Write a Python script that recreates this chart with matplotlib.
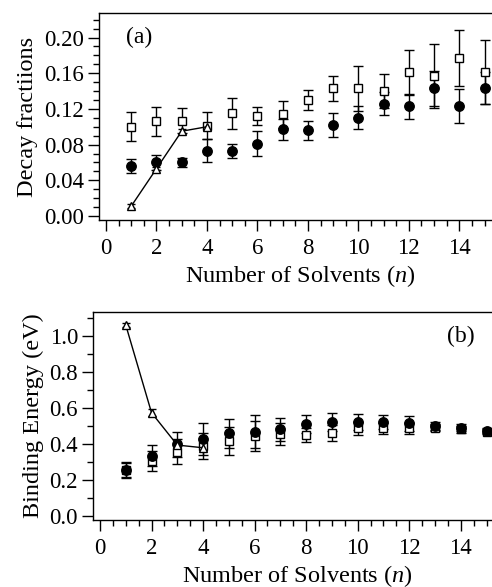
import numpy as np
import matplotlib
matplotlib.use("Agg")
import matplotlib.pyplot as plt
from matplotlib.ticker import MultipleLocator, FormatStrFormatter

plt.rcParams['font.family'] = ['Liberation Serif', 'DejaVu Serif']
plt.rcParams['mathtext.fontset'] = 'custom'
plt.rcParams['mathtext.it'] = 'Liberation Serif:italic'
plt.rcParams['mathtext.rm'] = 'Liberation Serif'

# ---- data: panel (a) decay fractions ----
n = np.arange(1, 16)
a_sq = [0.100, 0.106, 0.107, 0.101, 0.115, 0.112, 0.114, 0.130, 0.143, 0.143, 0.140, 0.161, 0.157, 0.177, 0.161]
a_sq_err = [0.016, 0.016, 0.014, 0.015, 0.017, 0.010, 0.015, 0.011, 0.014, 0.025, 0.019, 0.025, 0.036, 0.031, 0.036]
a_ci = [0.056, 0.060, 0.060, 0.073, 0.073, 0.081, 0.097, 0.096, 0.102, 0.110, 0.126, 0.123, 0.143, 0.123, 0.143]
a_ci_err = [0.008, 0.008, 0.005, 0.013, 0.008, 0.014, 0.012, 0.011, 0.013, 0.013, 0.013, 0.014, 0.020, 0.019, 0.018]
n_tri = np.arange(1, 5)
a_tri = [0.011, 0.053, 0.095, 0.100]
a_tri_err = [0.002, 0.002, 0.003, 0.003]

# ---- data: panel (b) binding energy ----
b_sq = [0.254, 0.306, 0.356, 0.388, 0.416, 0.443, 0.453, 0.449, 0.462, 0.486, 0.486, 0.486, 0.490, 0.480, 0.468]
b_sq_err = [0.040, 0.055, 0.070, 0.070, 0.080, 0.085, 0.060, 0.040, 0.045, 0.035, 0.030, 0.030, 0.020, 0.020, 0.015]
b_ci = [0.254, 0.334, 0.397, 0.427, 0.458, 0.468, 0.480, 0.508, 0.523, 0.523, 0.520, 0.514, 0.499, 0.490, 0.473]
b_ci_err = [0.045, 0.060, 0.070, 0.090, 0.080, 0.090, 0.065, 0.050, 0.050, 0.045, 0.040, 0.040, 0.020, 0.020, 0.015]
b_tri = [1.061, 0.573, 0.393, 0.378]
b_tri_err = [0.010, 0.020, 0.020, 0.020]

fig = plt.figure(figsize=(4.92, 5.87), dpi=100)
ax1 = fig.add_axes([0.2012, 0.6252, 0.8191, 0.3521])
ax2 = fig.add_axes([0.1896, 0.1141, 0.8307, 0.3549])

eb = dict(color='black', ecolor='black', elinewidth=1.0, capsize=3.5, capthick=1.0, linestyle='none')

def draw(ax, sq, sq_err, ci, ci_err, tri, tri_err):
    ax.errorbar(n, sq, yerr=sq_err, marker='s', markersize=6.3, markerfacecolor='white',
                markeredgecolor='black', markeredgewidth=1.0, **eb)
    ax.errorbar(n, ci, yerr=ci_err, marker='o', markersize=6.8, markerfacecolor='black',
                markeredgecolor='black', **eb)
    ax.errorbar(n_tri, tri, yerr=tri_err, marker='^', markersize=5.5, markerfacecolor='white',
                markeredgecolor='black', markeredgewidth=1.0, color='black', ecolor='black',
                elinewidth=1.0, capsize=3, capthick=1.0, linestyle='-', linewidth=1.0)
    ax.spines['right'].set_visible(False)
    for s in ['left', 'top', 'bottom']:
        ax.spines[s].set_linewidth(1.0)
    ax.xaxis.set_major_locator(MultipleLocator(2))
    ax.xaxis.set_minor_locator(MultipleLocator(0.5))
    ax.tick_params(axis='both', which='major', direction='out', length=8, width=1.0,
                   labelsize=16.5, pad=3, top=False, right=False)
    ax.tick_params(axis='both', which='minor', direction='out', length=4.5, width=1.0,
                   top=False, right=False)
    ax.tick_params(axis='x', which='major', pad=5)
    ax.set_xlabel("Number of Solvents ($\\mathit{n}$)", fontsize=17.5, labelpad=3)

draw(ax1, a_sq, a_sq_err, a_ci, a_ci_err, a_tri, a_tri_err)
ax1.set_xlim(-0.277, 15.69)
ax1.set_ylim(-0.0045, 0.2271)
ax1.yaxis.set_major_locator(MultipleLocator(0.04))
ax1.yaxis.set_minor_locator(MultipleLocator(0.01))
ax1.yaxis.set_major_formatter(FormatStrFormatter('%.2f'))
ax1.set_ylabel("Decay fractiions", fontsize=17.5, labelpad=4)
ax1.text(0.066, 0.884, "(a)", transform=ax1.transAxes, fontsize=17, va='center', ha='left')

draw(ax2, b_sq, b_sq_err, b_ci, b_ci_err, b_tri, b_tri_err)
ax2.set_xlim(-0.26, 15.6)
ax2.set_ylim(-0.024, 1.135)
ax2.yaxis.set_major_locator(MultipleLocator(0.2))
ax2.yaxis.set_minor_locator(MultipleLocator(0.1))
ax2.yaxis.set_major_formatter(FormatStrFormatter('%.1f'))
ax2.set_ylabel("Binding Energy (eV)", fontsize=17.5, labelpad=4)
ax2.text(0.865, 0.88, "(b)", transform=ax2.transAxes, fontsize=17, va='center', ha='left')

fig.savefig("out.png", dpi=100)
